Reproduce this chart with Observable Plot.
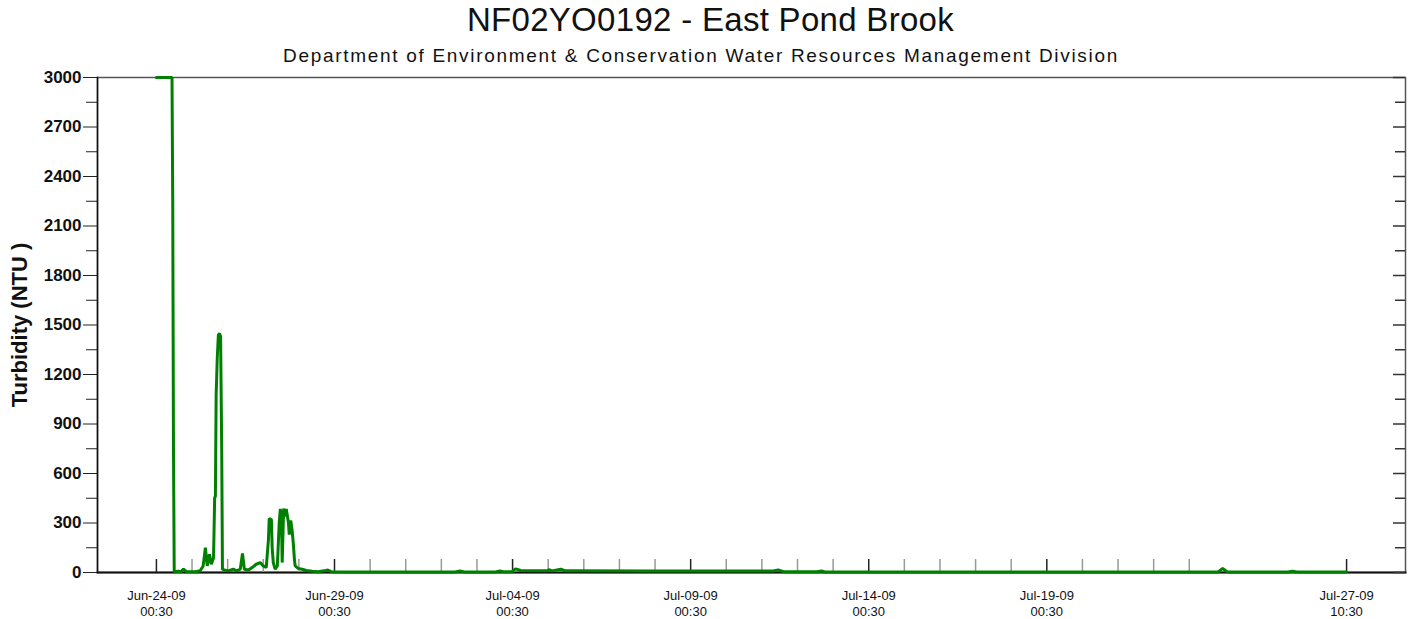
<!DOCTYPE html>
<html>
<head>
<meta charset="utf-8">
<script src="https://cdn.jsdelivr.net/npm/d3@7"></script>
<script src="https://cdn.jsdelivr.net/npm/@observablehq/plot@0.6"></script>
<style>
  html, body { margin: 0; padding: 0; background: #ffffff; }
  #wrap { position: relative; width: 1413px; height: 619px; font-family: "Liberation Sans", Arial, sans-serif; }
  #title { position: absolute; left: 0; width: 1413px; top: 1px; text-align: center; font-size: 33px; letter-spacing: 0.3px; color: #111; padding-left: 8px; box-sizing: border-box; }
  #subtitle { position: absolute; left: 0; width: 1413px; top: 45px; text-align: center; font-size: 19px; letter-spacing: 1.7px; color: #111; padding-right: 11px; box-sizing: border-box; }
  #chart { position: absolute; left: 0; top: 0; }
</style>
</head>
<body>
<div id="wrap">
  <div id="chart"></div>
  <div id="title">NF02YO0192 - East Pond Brook</div>
  <div id="subtitle">Department of Environment &amp; Conservation Water Resources Management Division</div>
</div>
<script>
// ---- data ----
const times = [
  "2009-06-24T00:30","2009-06-24T11:00","2009-06-24T11:30","2009-06-24T12:00","2009-06-24T12:30",
  "2009-06-24T15:15","2009-06-24T17:00","2009-06-24T18:45","2009-06-24T20:45","2009-06-25T02:45",
  "2009-06-25T06:00","2009-06-25T08:00","2009-06-25T09:30","2009-06-25T10:45","2009-06-25T12:15",
  "2009-06-25T13:30","2009-06-25T15:00","2009-06-25T15:45","2009-06-25T16:15","2009-06-25T16:45",
  "2009-06-25T17:30","2009-06-25T18:15","2009-06-25T19:00","2009-06-25T19:45","2009-06-25T20:30",
  "2009-06-25T21:00","2009-06-25T22:15","2009-06-26T01:00","2009-06-26T04:15","2009-06-26T06:30",
  "2009-06-26T09:00","2009-06-26T10:30","2009-06-26T11:45","2009-06-26T14:30","2009-06-26T17:00",
  "2009-06-26T19:45","2009-06-26T22:30","2009-06-27T00:30","2009-06-27T02:30","2009-06-27T04:00",
  "2009-06-27T04:30","2009-06-27T06:00","2009-06-27T06:30","2009-06-27T07:15","2009-06-27T08:30",
  "2009-06-27T10:00","2009-06-27T11:15","2009-06-27T12:00","2009-06-27T12:45","2009-06-27T13:15",
  "2009-06-27T14:15","2009-06-27T15:15","2009-06-27T16:00","2009-06-27T17:30","2009-06-27T18:00",
  "2009-06-27T19:00","2009-06-27T20:00","2009-06-27T20:45","2009-06-27T21:30","2009-06-27T22:00",
  "2009-06-28T00:00","2009-06-28T02:45","2009-06-28T05:30","2009-06-28T09:30","2009-06-28T13:30",
  "2009-06-28T17:30","2009-06-28T20:00","2009-06-28T22:15","2009-06-29T12:00","2009-07-02T10:00",
  "2009-07-02T13:00","2009-07-02T16:00","2009-07-03T13:00","2009-07-03T16:00","2009-07-03T19:00",
  "2009-07-04T00:00","2009-07-04T02:30","2009-07-04T06:00","2009-07-05T00:00","2009-07-05T01:00",
  "2009-07-05T03:00","2009-07-05T09:00","2009-07-05T12:00","2009-07-08T00:00","2009-07-11T08:00",
  "2009-07-11T11:30","2009-07-11T15:00","2009-07-12T14:00","2009-07-12T16:45","2009-07-12T19:00",
  "2009-07-23T20:00","2009-07-23T23:00","2009-07-24T02:00","2009-07-25T19:00","2009-07-25T22:00",
  "2009-07-26T01:00","2009-07-27T10:30"
];
const turbidity = [
  3000,3000,2250,750,5,
  8,5,20,5,5,
  10,40,150,40,110,
  50,90,455,460,1073,
  1300,1440,1448,1430,740,
  20,15,10,20,10,
  20,115,20,15,30,
  50,60,40,30,200,
  327,320,150,60,20,
  40,300,385,330,60,
  388,340,385,300,230,
  315,250,175,80,40,
  25,20,12,8,5,
  10,15,5,3,3,
  10,3,3,10,4,
  5,22,12,10,18,
  10,20,10,9,9,
  15,5,4,9,3,
  3,25,3,3,8,
  3,3
];
const majorTicks = ["2009-06-24T00:30","2009-06-29T00:30","2009-07-04T00:30","2009-07-09T00:30","2009-07-14T00:30","2009-07-19T00:30","2009-07-27T10:30"];
const minorTicks = [
  "2009-06-25T00:30","2009-06-26T00:30","2009-06-27T00:30","2009-06-28T00:30",
  "2009-06-30T00:30","2009-07-01T00:30","2009-07-02T00:30","2009-07-03T00:30",
  "2009-07-05T00:30","2009-07-06T00:30","2009-07-07T00:30","2009-07-08T00:30",
  "2009-07-10T00:30","2009-07-11T00:30","2009-07-12T00:30","2009-07-13T00:30",
  "2009-07-15T00:30","2009-07-16T00:30","2009-07-17T00:30","2009-07-18T00:30",
  "2009-07-20T00:30","2009-07-21T00:30","2009-07-22T00:30","2009-07-23T00:30"
];
const xDomain = ["2009-06-22T08:48","2009-07-29T02:12"];
const yMajor = [0,300,600,900,1200,1500,1800,2100,2400,2700,3000];
const yMinor = [150,450,750,1050,1350,1650,1950,2250,2550,2850];
const yLabel = "Turbidity (NTU )";

// ---- build ----
const parse = s => new Date(s + "Z");
const data = times.map((t, i) => ({date: parse(t), value: turbidity[i]}));
const majors = majorTicks.map(parse);
const minors = minorTicks.map(parse);
const fmtDate = d3.utcFormat("%b-%d-%y");
const fmtTime = d3.utcFormat("%H:%M");

const W = 1413, H = 619, mL = 97, mR = 8, mT = 77, mB = 47;
const frameW = W - mL - mR, frameH = H - mT - mB;

const chart = Plot.plot({
  width: W, height: H,
  marginLeft: mL, marginRight: mR, marginTop: mT, marginBottom: mB,
  x: {type: "utc", domain: xDomain.map(parse)},
  y: {domain: [0, 3000]},
  style: {fontFamily: "'Liberation Sans', Arial, sans-serif", background: "#ffffff", color: "#111"},
  marks: [
    Plot.frame({stroke: "#555", strokeWidth: 1.5}),
    Plot.frame({anchor: "left", stroke: "#111", strokeWidth: 1.5}),
    Plot.frame({anchor: "bottom", stroke: "#111", strokeWidth: 2}),
    // left axis
    Plot.axisY({ticks: yMajor, tickSize: 14, tickPadding: 2, label: null, fontWeight: "bold", fontSize: 17,
                letterSpacing: "1.4px", tickFormat: d => String(d), stroke: "#222"}),
    Plot.axisY({ticks: yMinor, tickSize: 11, tickFormat: () => "", label: null, stroke: "#222"}),
    // right ticks (inward)
    Plot.tickY(yMajor, {y: d => d, insetLeft: frameW - 12, stroke: "#333", strokeWidth: 1.5}),
    Plot.tickY(yMinor, {y: d => d, insetLeft: frameW - 10, stroke: "#333", strokeWidth: 1.5}),
    // bottom ticks (inward)
    Plot.tickX(minors, {x: d => d, insetTop: frameH - 13, stroke: "#999", strokeWidth: 1.5}),
    Plot.tickX(majors, {x: d => d, insetTop: frameH - 13, stroke: "#222", strokeWidth: 1.5}),
    Plot.axisX({ticks: majors, tickSize: 0, tickPadding: 15, label: null, fontSize: 13, lineHeight: 1.3,
                letterSpacing: "0.6px", tickFormat: d => fmtDate(d) + "\n" + fmtTime(d)}),
    // y label
    Plot.text([yLabel], {frameAnchor: "left", textAnchor: "middle", rotate: -90, dx: -78,
                         fontWeight: "bold", fontSize: 22, letterSpacing: "0.6px", fill: "#111"}),
    // series
    Plot.lineY(data, {x: "date", y: "value", stroke: "#008000", strokeWidth: 3, strokeLinejoin: "miter"})
  ]
});
document.getElementById("chart").appendChild(chart);
</script>
</body>
</html>
